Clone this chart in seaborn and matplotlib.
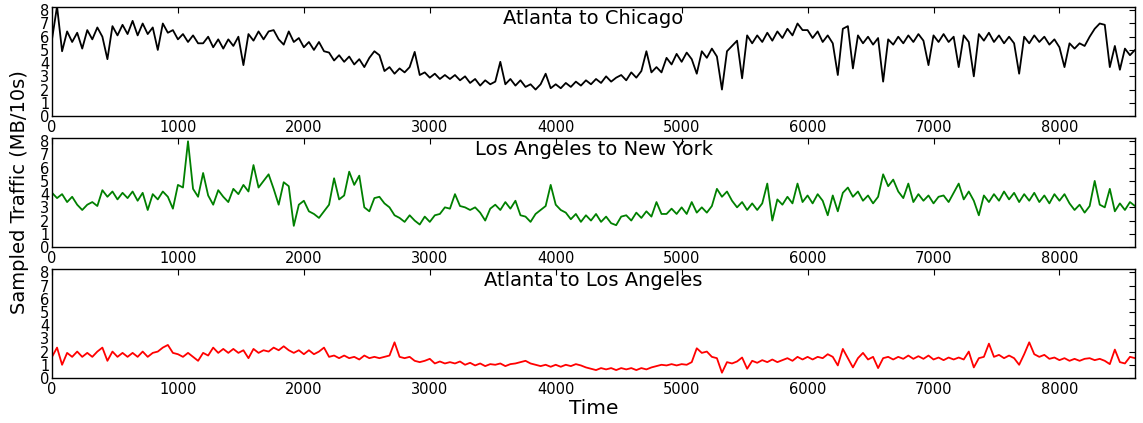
import numpy as np
import pandas as pd
import matplotlib
matplotlib.use("Agg")
import matplotlib.pyplot as plt
import seaborn as sns

# sample spacing of the hand-read values (time units)
step = 40

atl_chi = [
    5.8, 8.3, 4.9, 6.4, 5.6, 6.3, 5.1, 6.5, 5.8, 6.7,
    6.0, 4.3, 6.8, 6.1, 6.9, 6.2, 7.2, 6.1, 7.0, 6.2,
    6.7, 5.0, 7.0, 6.3, 6.5, 5.8, 6.2, 5.6, 6.1, 5.5,
    5.5, 6.0, 5.2, 5.8, 5.1, 5.8, 5.3, 6.0, 3.85, 6.2,
    5.7, 6.4, 5.8, 6.4, 6.5, 5.8, 5.4, 6.4, 5.6, 5.9,
    5.2, 5.6, 5.0, 5.6, 4.9, 4.8, 4.2, 4.6, 4.1, 4.5,
    3.9, 4.3, 3.7, 4.4, 4.9, 4.6, 3.4, 3.7, 3.2, 3.6,
    3.3, 3.7, 4.85, 3.1, 3.3, 2.9, 3.2, 2.8, 3.1, 2.8,
    3.1, 2.7, 3.0, 2.5, 2.8, 2.3, 2.7, 2.4, 2.6, 4.1,
    2.4, 2.8, 2.3, 2.7, 2.2, 2.4, 2.0, 2.4, 3.2, 2.1,
    2.4, 2.1, 2.5, 2.2, 2.6, 2.3, 2.7, 2.4, 2.8, 2.5,
    3.0, 2.6, 2.9, 3.1, 2.7, 3.3, 2.9, 3.4, 4.9, 3.3,
    3.7, 3.3, 4.4, 3.9, 4.7, 4.1, 4.8, 4.3, 3.2, 4.9,
    4.4, 5.1, 4.5, 2.0, 4.9, 5.3, 5.7, 2.85, 6.1, 5.5,
    6.1, 5.6, 6.3, 5.7, 6.4, 5.9, 6.6, 6.1, 7.0, 6.5,
    6.5, 5.9, 6.4, 5.6, 6.1, 5.5, 3.1, 6.6, 6.8, 3.6,
    6.1, 5.5, 6.0, 5.4, 5.9, 2.6, 5.8, 5.4, 6.0, 5.5,
    6.1, 5.6, 6.2, 5.7, 3.85, 6.1, 5.6, 6.2, 5.6, 6.0,
    3.7, 6.1, 5.6, 3.0, 6.2, 5.7, 6.3, 5.6, 6.1, 5.5,
    6.0, 5.5, 3.2, 6.0, 5.5, 6.1, 5.6, 6.0, 5.4, 5.8,
    5.2, 3.7, 5.5, 5.1, 5.5, 5.3, 6.0, 6.6, 7.0, 6.9,
    3.7, 5.3, 3.5, 5.1, 4.6, 5.0,
]

la_ny = [
    4.1, 3.7, 4.0, 3.4, 3.8, 3.2, 2.8, 3.2, 3.4, 3.1,
    4.3, 3.8, 4.2, 3.6, 4.1, 3.7, 4.2, 3.5, 4.1, 2.8,
    4.0, 3.6, 4.2, 3.8, 2.9, 4.7, 4.5, 8.0, 4.4, 3.8,
    5.6, 3.9, 3.2, 4.3, 3.8, 3.4, 4.4, 4.0, 4.7, 4.2,
    6.2, 4.5, 5.0, 5.5, 4.4, 3.2, 4.9, 4.6, 1.6, 3.2,
    3.5, 2.7, 2.5, 2.2, 2.7, 3.2, 5.2, 3.6, 3.9, 5.7,
    4.7, 5.4, 3.0, 2.7, 3.7, 3.8, 3.3, 3.0, 2.4, 2.2,
    1.9, 2.4, 2.0, 1.7, 2.3, 1.9, 2.4, 2.5, 3.0, 2.9,
    4.0, 3.1, 3.0, 2.8, 3.0, 2.6, 2.0, 2.9, 3.2, 2.8,
    3.4, 2.9, 3.5, 2.4, 2.3, 1.9, 2.5, 2.8, 3.1, 4.7,
    3.2, 2.8, 2.6, 2.1, 2.5, 1.9, 2.4, 2.0, 2.5, 1.9,
    2.3, 1.8, 1.65, 2.3, 2.4, 2.0, 2.6, 2.2, 2.7, 2.3,
    3.4, 2.5, 2.5, 2.9, 2.5, 3.0, 2.5, 3.4, 2.6, 3.0,
    2.6, 3.1, 4.4, 3.8, 4.2, 3.5, 3.0, 3.4, 2.8, 3.3,
    2.8, 3.3, 4.8, 2.0, 3.6, 3.2, 3.8, 3.3, 4.8, 3.4,
    3.9, 3.3, 4.0, 3.5, 2.4, 3.9, 2.7, 4.1, 4.5, 3.8,
    4.2, 3.5, 3.9, 3.3, 3.8, 5.5, 4.6, 5.1, 4.2, 3.7,
    4.8, 3.4, 4.0, 3.5, 3.9, 3.3, 3.8, 3.9, 3.4, 4.1,
    4.8, 3.6, 4.2, 3.5, 2.4, 3.9, 3.4, 4.0, 3.5, 4.2,
    3.6, 4.1, 3.4, 4.0, 3.5, 4.1, 3.4, 3.9, 3.3, 4.0,
    3.5, 4.0, 3.3, 2.8, 3.2, 2.6, 3.1, 5.0, 3.2, 3.0,
    4.4, 2.7, 3.3, 2.8, 3.4, 3.1,
]

atl_la = [
    1.6, 2.3, 1.0, 1.9, 1.6, 2.0, 1.6, 1.9, 1.6, 2.0,
    2.3, 1.3, 2.0, 1.6, 1.9, 1.6, 1.9, 1.6, 2.0, 1.6,
    1.9, 2.0, 2.3, 2.5, 1.9, 1.8, 1.6, 1.9, 1.6, 1.3,
    1.9, 1.7, 2.3, 1.9, 2.2, 1.9, 2.2, 1.9, 2.1, 1.5,
    2.2, 1.9, 2.1, 2.0, 2.3, 2.1, 2.4, 2.1, 1.9, 2.1,
    1.8, 2.1, 1.8, 2.0, 2.3, 1.6, 1.7, 1.5, 1.7, 1.5,
    1.6, 1.4, 1.7, 1.5, 1.6, 1.5, 1.6, 1.7, 2.7, 1.6,
    1.5, 1.6, 1.3, 1.2, 1.3, 1.45, 1.1, 1.25, 1.1, 1.2,
    1.1, 1.25, 1.0, 1.15, 0.95, 1.1, 0.9, 1.05, 1.0, 1.1,
    0.9, 1.05, 1.1, 1.2, 1.3, 1.1, 1.0, 0.9, 1.0, 0.85,
    1.0, 0.85, 1.0, 0.9, 1.05, 0.95, 0.8, 0.7, 0.6, 0.75,
    0.65, 0.75, 0.6, 0.75, 0.65, 0.75, 0.6, 0.75, 0.65, 0.8,
    0.9, 1.0, 0.95, 1.05, 0.95, 1.05, 1.0, 1.2, 2.25, 1.9,
    2.0, 1.6, 1.5, 0.4, 1.2, 1.1, 1.25, 1.55, 0.7, 1.3,
    1.15, 1.35, 1.2, 1.4, 1.2, 1.35, 1.5, 1.3, 1.6, 1.4,
    1.6, 1.4, 1.6, 1.5, 1.8, 1.6, 0.95, 2.2, 1.5, 0.8,
    1.5, 1.9, 1.4, 1.6, 0.75, 1.5, 1.6, 1.4, 1.6, 1.45,
    1.7, 1.45, 1.65, 1.45, 1.7, 1.4, 1.55, 1.35, 1.55, 1.4,
    1.55, 1.4, 2.0, 0.8, 1.5, 1.6, 2.6, 1.6, 1.75, 1.5,
    1.7, 1.5, 1.0, 1.8, 2.7, 1.8, 1.6, 1.75, 1.45, 1.55,
    1.35, 1.5, 1.3, 1.45, 1.3, 1.45, 1.5, 1.35, 1.45, 1.3,
    1.05, 2.15, 1.2, 1.1, 1.6, 1.5,
]

titles = ["Atlanta to Chicago", "Los Angeles to New York", "Atlanta to Los Angeles"]
colors = ["black", "green", "red"]
series = [atl_chi, la_ny, atl_la]
x_ticks = [0, 1000, 2000, 3000, 4000, 5000, 6000, 7000, 8000]
y_ticks = [0, 1, 2, 3, 4, 5, 6, 7, 8]

sns.set_theme(style="white")
plt.rcParams["font.family"] = ["DejaVu Sans"]

fig = plt.figure(figsize=(11.43, 4.23), dpi=100)
fig.subplots_adjust(left=0.0455, right=0.993, top=0.9835, bottom=0.1064, hspace=0.2018)
axes = fig.subplots(3, 1)

for ax, vals, title, col in zip(axes, series, titles, colors):
    df = pd.DataFrame({"Time": np.arange(len(vals)) * step, "Traffic": vals})
    sns.lineplot(data=df, x="Time", y="Traffic", color=col, linewidth=1.3, ax=ax)
    ax.set_xlim(0, 8600)
    ax.set_ylim(0, 8.25)
    ax.set_xticks(x_ticks)
    ax.set_yticks(y_ticks)
    ax.tick_params(direction="in", top=True, right=True, length=4, width=0.8,
                   labelsize=10.5, colors="black", pad=2)
    ax.tick_params(axis="x", pad=3)
    for sp in ax.spines.values():
        sp.set_color("black")
        sp.set_linewidth(1.0)
    ax.set_xlabel("")
    ax.set_ylabel("")
    ax.text(0.5, 0.985, title, transform=ax.transAxes, ha="center", va="top",
            fontsize=14, color="black")

axes[2].set_xlabel("Time", fontsize=14.5, labelpad=1, color="black")
fig.text(0.017, 0.545, "Sampled Traffic (MB/10s)", rotation=90, ha="center",
         va="center", fontsize=14, color="black")

fig.savefig("out.png", dpi=100)
